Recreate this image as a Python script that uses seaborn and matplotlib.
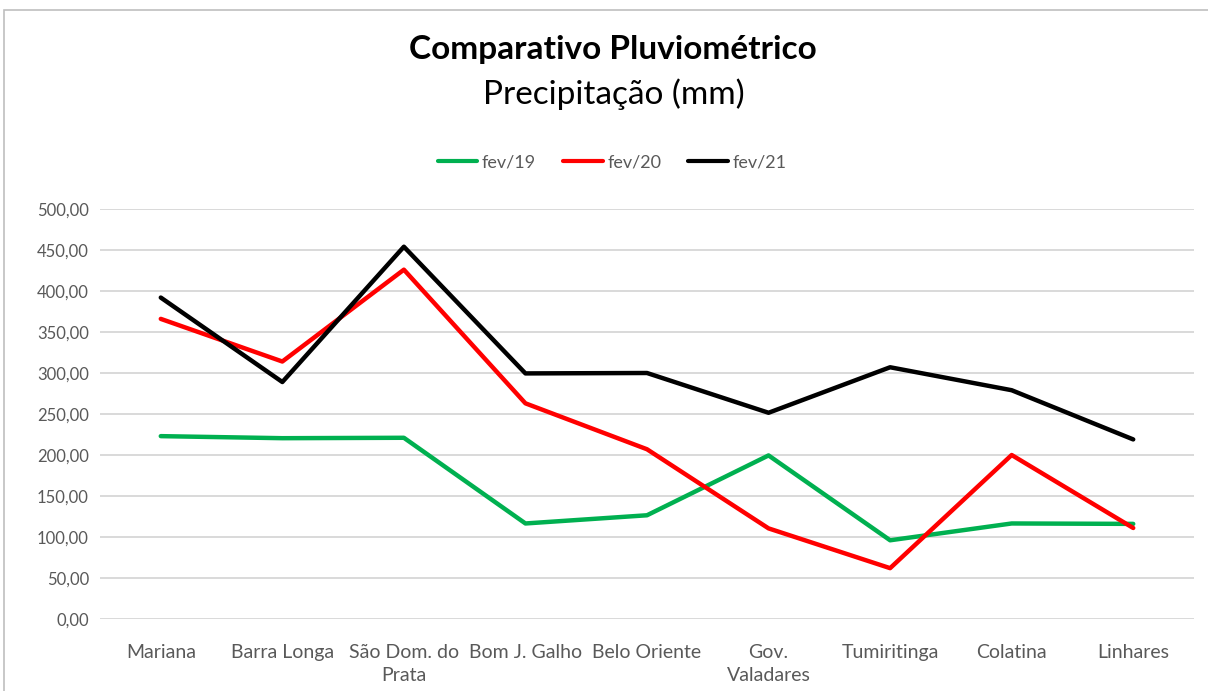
import matplotlib
matplotlib.use("Agg")
import matplotlib.pyplot as plt
import seaborn as sns
import pandas as pd
from matplotlib.patches import Rectangle
from matplotlib.lines import Line2D

categories = ["Mariana", "Barra Longa", "São Dom. do\nPrata", "Bom J. Galho", "Belo Oriente",
              "Gov.\nValadares", "Tumiritinga", "Colatina", "Linhares"]
fev19 = [223, 220.5, 221, 116.5, 126.5, 199.5, 96, 116.5, 116]
fev20 = [366, 314, 426, 263, 207, 110.5, 62, 200, 111]
fev21 = [392, 289, 454, 299.5, 300, 251.5, 307, 279, 219]
series_names = ["fev/19", "fev/20", "fev/21"]
colors = ["#00b050", "#ff0000", "#000000"]
yticks = [0, 50, 100, 150, 200, 250, 300, 350, 400, 450, 500]

rows = []
for name, vals in zip(series_names, [fev19, fev20, fev21]):
    for i, v in enumerate(vals):
        rows.append({"idx": i, "valor": v, "serie": name})
df = pd.DataFrame(rows)

sns.set_theme(style="white")
plt.rcParams["font.family"] = ["Lato", "DejaVu Sans"]

fig = plt.figure(figsize=(12.08, 6.91), dpi=100)
ax = fig.add_axes([100 / 1208, 1 - 619 / 691, (1194 - 100) / 1208, (619 - 209) / 691])

sns.lineplot(data=df, x="idx", y="valor", hue="serie", palette=colors, linewidth=3.2,
             ax=ax, legend=False, sort=False)

ax.set_xlim(-0.5, len(categories) - 0.5)
ax.set_ylim(0, 500)
ax.set_yticks(yticks)
ax.set_yticklabels([f"{v:.2f}".replace(".", ",") for v in yticks], color="#595959", fontsize=12)
ax.set_xticks(range(len(categories)))
ax.set_xticklabels(categories, color="#595959", fontsize=14, linespacing=1.45)
ax.tick_params(axis="y", length=0, pad=8)
ax.tick_params(axis="x", length=0, pad=18)
ax.set_xlabel("")
ax.set_ylabel("")
ax.grid(axis="y", color="#d9d9d9", linewidth=1.4)
ax.set_axisbelow(True)
for s in ax.spines.values():
    s.set_visible(False)

fig.text(613 / 1208, 1 - 50 / 691, "Comparativo Pluviométrico", ha="center", va="center",
         fontsize=24, fontweight="bold", color="#000000")
fig.text(614 / 1208, 1 - 94 / 691, "Precipitação (mm)", ha="center", va="center",
         fontsize=24, color="#000000")

handles = [Line2D([0], [0], color=c, lw=3) for c in colors]
fig.legend(handles, series_names, loc="center", bbox_to_anchor=(612 / 1208, 1 - 162 / 691),
           ncol=3, frameon=False, fontsize=13, handlelength=2.2, handletextpad=0.25,
           columnspacing=1.5, labelcolor="#595959")

fig.patches.append(Rectangle((4 / 1208, -0.05), 1.2, 1 - 10 / 691 + 0.05, transform=fig.transFigure,
                             fill=False, edgecolor="#bfbfbf", linewidth=1.2))

fig.savefig("out.png", dpi=100)
